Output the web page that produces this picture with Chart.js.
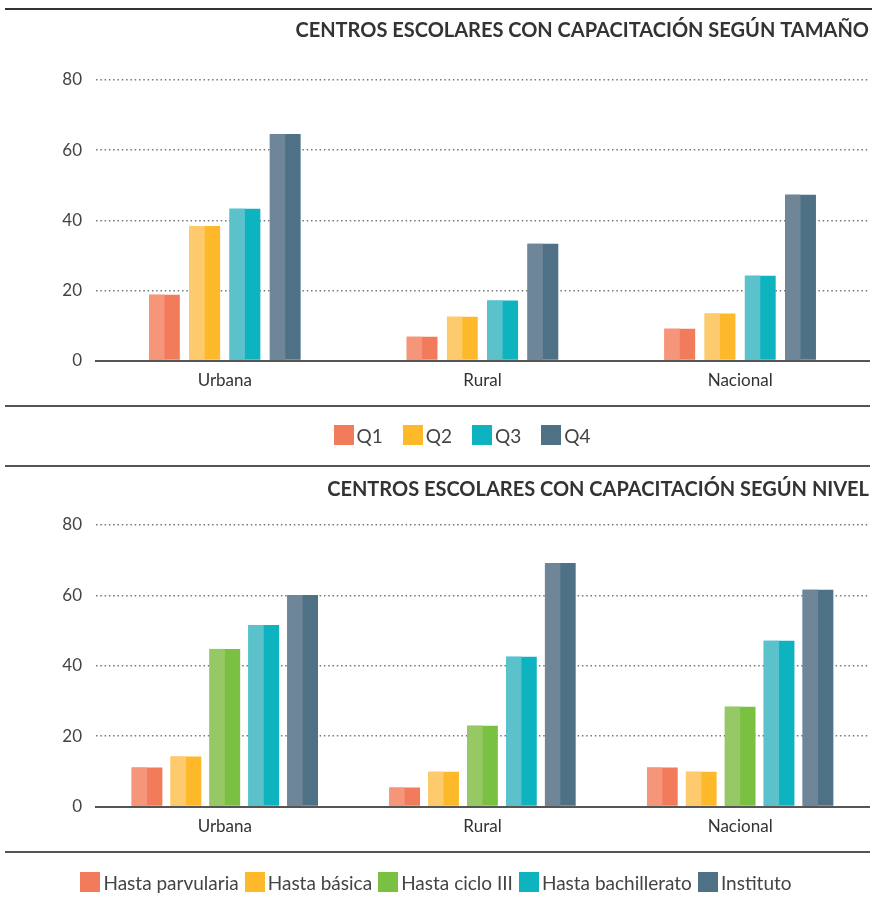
<!DOCTYPE html>
<html>
<head>
<meta charset="utf-8">
<script src="https://cdn.jsdelivr.net/npm/chart.js@4/dist/chart.umd.min.js"></script>
<style>
  body { margin: 0; background: #fff; font-family: Lato, "Open Sans", sans-serif; }
  #page { position: relative; width: 872px; height: 904px; }
  .rule { position: absolute; left: 5px; width: 865px; background: #555; }
  .wrap { position: absolute; left: 0; width: 872px; }
  .legend { position: absolute; left: 0; width: 872px; display: flex; justify-content: center; align-items: center;
            font-size: 19px; color: #444; box-sizing: border-box; }
  .legend span.item { display: flex; align-items: center; }
  .legend span.box { display: inline-block; width: 20px; height: 20px; margin-right: 3px; }
</style>
</head>
<body>
<div id="page">
  <div class="rule" style="top:8px;height:2px;background:#333;width:867px"></div>
  <div class="wrap" style="top:10px;height:396px"><canvas id="chart1"></canvas></div>
  <div class="rule" style="top:405px;height:2px"></div>
  <div class="legend" id="legend1" style="top:407px;height:56px;padding-left:52px"></div>
  <div class="rule" style="top:465px;height:2px"></div>
  <div class="wrap" style="top:467px;height:384px"><canvas id="chart2"></canvas></div>
  <div class="rule" style="top:851px;height:2px"></div>
  <div class="legend" id="legend2" style="top:853px;height:58px"></div>
</div>
<script>
const categories = ["Urbana", "Rural", "Nacional"];

// Panel 1: según tamaño
const sizeLabels = ["Q1", "Q2", "Q3", "Q4"];
const q1 = [18.8, 6.8, 9.1];
const q2 = [38.4, 12.5, 13.4];
const q3 = [43.3, 17.1, 24.2];
const q4 = [64.6, 33.3, 47.3];

// Panel 2: según nivel
const levelLabels = ["Hasta parvularia", "Hasta básica", "Hasta ciclo III", "Hasta bachillerato", "Instituto"];
const parvularia = [11.1, 5.4, 11.1];
const basica = [14.2, 9.9, 9.9];
const cicloIII = [44.8, 23.0, 28.4];
const bachillerato = [51.6, 42.6, 47.1];
const instituto = [60.1, 69.2, 61.6];

const yTicks = [0, 20, 40, 60, 80];

const dark = {orange: "#F27B5C", yellow: "#FDB92A", green: "#7AC143", teal: "#0EB3C0", slate: "#4E7186"};
const light = {orange: "#F5967A", yellow: "#FDCB6E", green: "#96C965", teal: "#5BC1CB", slate: "#6F8699"};

// paint the left half of each bar in the lighter tone
const twoTone = {
  id: "twoTone",
  afterDatasetsDraw(chart) {
    const ctx = chart.ctx;
    chart.data.datasets.forEach((ds, i) => {
      const meta = chart.getDatasetMeta(i);
      if (meta.hidden) return;
      ctx.save();
      ctx.fillStyle = ds.lightColor;
      meta.data.forEach(el => {
        const p = el.getProps(["x", "y", "base", "width"], true);
        ctx.fillRect(p.x - p.width / 2, p.y, p.width / 2, p.base - p.y);
      });
      ctx.restore();
    });
  }
};

function buildLegend(id, labels, colors, gap) {
  let out = "";
  labels.forEach((l, i) => {
    out += `<span class="item" style="margin:0 ${gap}px"><span class="box" style="background:${colors[i]}"></span>${l}</span>`;
  });
  document.getElementById(id).innerHTML = out;
}

function makeChart(id, title, labels, series, keys, opts) {
  return new Chart(id, {
    type: "bar",
    data: {
      labels: categories,
      datasets: series.map((s, i) => ({
        label: labels[i],
        data: s,
        backgroundColor: dark[keys[i]],
        lightColor: light[keys[i]],
        borderWidth: 0,
        categoryPercentage: opts.cp,
        barPercentage: opts.bp
      }))
    },
    options: {
      responsive: true,
      maintainAspectRatio: false,
      animation: false,
      layout: {padding: {left: 0, right: 3, top: 0, bottom: opts.bottom}},
      plugins: {
        legend: {display: false},
        tooltip: {enabled: false},
        title: {
          display: true,
          text: title,
          align: "end",
          color: "#333",
          font: {family: "Lato", size: 20, weight: "bold"},
          padding: {top: opts.titleTop, bottom: opts.titleBottom}
        }
      },
      scales: {
        x: {
          grid: {display: false},
          border: {display: true, color: "#555", width: 2},
          ticks: {color: "#333", font: {family: "Lato", size: 17}, padding: 2}
        },
        y: {
          min: 0,
          max: 80,
          afterBuildTicks: s => { s.ticks = yTicks.map(v => ({value: v})); },
          afterFit: s => { s.width = 96; },
          border: {display: false, dash: [1.5, 2.8]},
          grid: {color: "#777", lineWidth: 1.5, drawTicks: false},
          ticks: {color: "#444", font: {family: "Lato", size: 17}, padding: 14}
        }
      }
    },
    plugins: [twoTone]
  });
}

makeChart("chart1", "CENTROS ESCOLARES CON CAPACITACIÓN SEGÚN TAMAÑO", sizeLabels,
  [q1, q2, q3, q4], ["orange", "yellow", "teal", "slate"],
  {cp: 0.625, bp: 0.765, bottom: 13, titleTop: 9, titleBottom: 37});
makeChart("chart2", "CENTROS ESCOLARES CON CAPACITACIÓN SEGÚN NIVEL", levelLabels,
  [parvularia, basica, cicloIII, bachillerato, instituto], ["orange", "yellow", "green", "teal", "slate"],
  {cp: 0.755, bp: 0.79, bottom: 12, titleTop: 11, titleBottom: 23});

buildLegend("legend1", sizeLabels, [dark.orange, dark.yellow, dark.teal, dark.slate], 10);
buildLegend("legend2", levelLabels, [dark.orange, dark.yellow, dark.green, dark.teal, dark.slate], 3);
</script>
</body>
</html>
